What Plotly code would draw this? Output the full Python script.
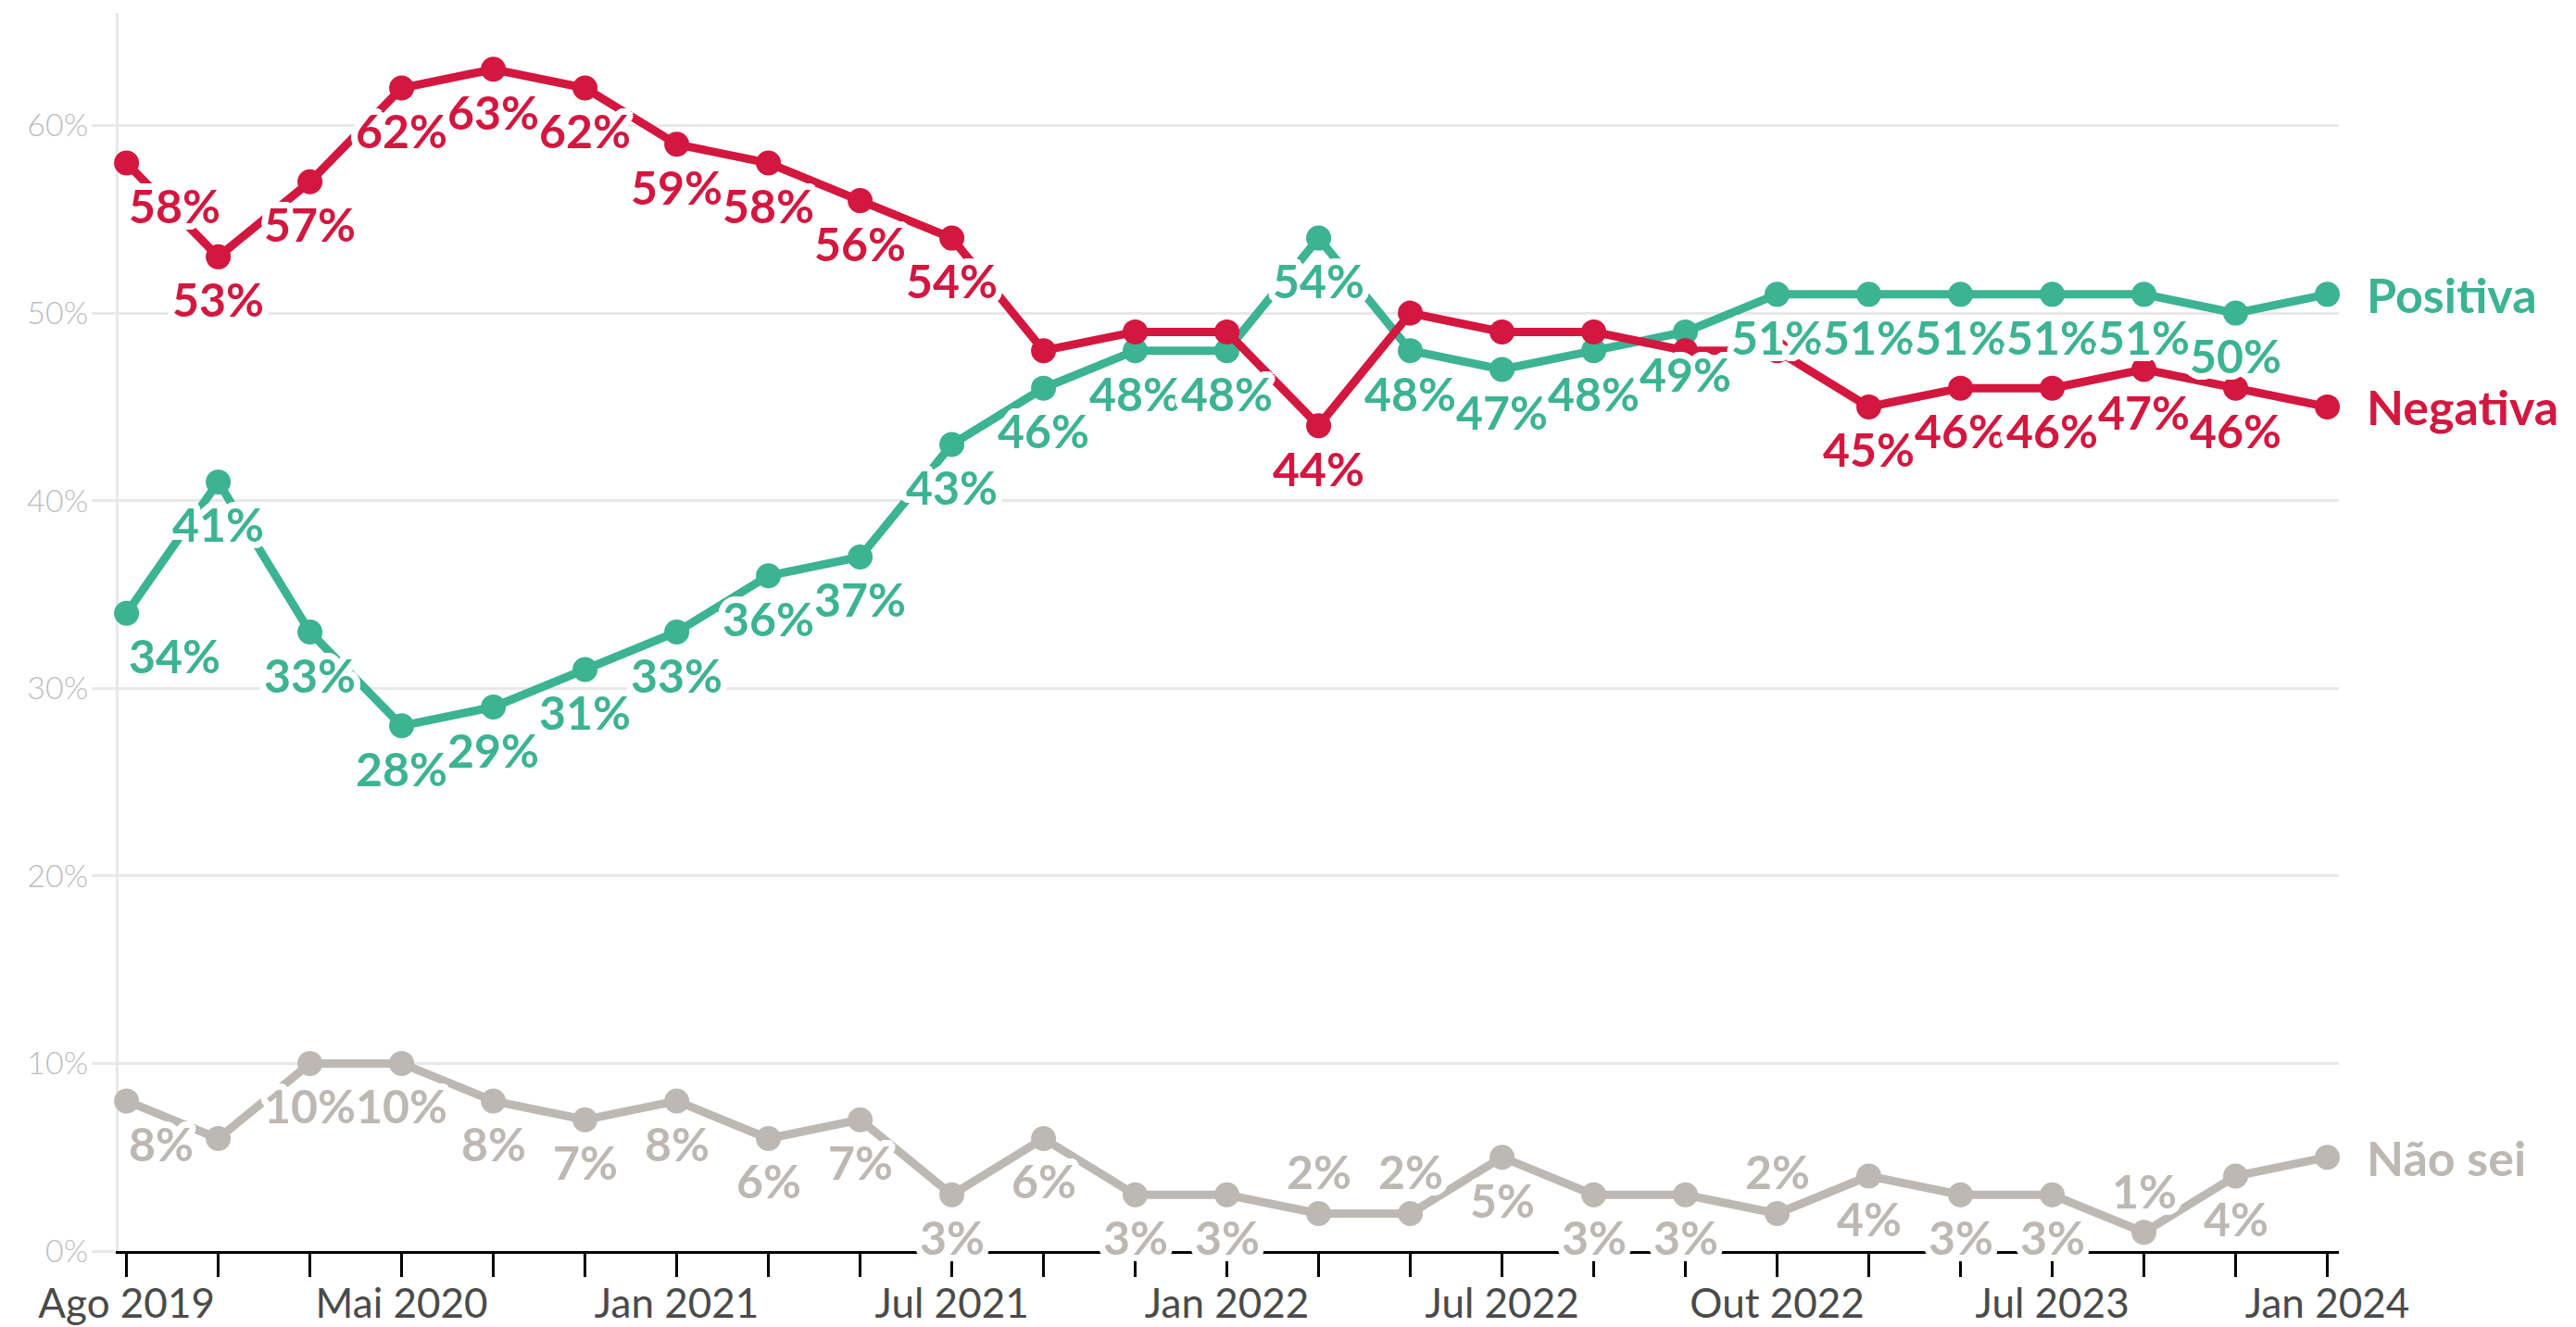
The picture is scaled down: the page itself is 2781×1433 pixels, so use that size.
import math
import plotly.graph_objects as go

# ---------------- data ----------------
periods = ["Ago 2019", "Dez 2019", "Fev 2020", "Mai 2020", "Ago 2020", "Out 2020",
           "Jan 2021", "Mar 2021", "Mai 2021", "Jul 2021", "Set 2021", "Nov 2021",
           "Jan 2022", "Mar 2022", "Mai 2022", "Jul 2022", "Ago 2022", "Set 2022",
           "Out 2022", "Dez 2022", "Mar 2023", "Jul 2023", "Set 2023", "Dez 2023",
           "Jan 2024"]
tick_labels = ["Ago 2019", "Mai 2020", "Jan 2021", "Jul 2021", "Jan 2022",
               "Jul 2022", "Out 2022", "Jul 2023", "Jan 2024"]
y_ticks = [0, 10, 20, 30, 40, 50, 60]

positiva = [34, 41, 33, 28, 29, 31, 33, 36, 37, 43, 46, 48, 48, 54, 48, 47, 48, 49,
            51, 51, 51, 51, 51, 50, 51]
negativa = [58, 53, 57, 62, 63, 62, 59, 58, 56, 54, 48, 49, 49, 44, 50, 49, 49, 48,
            48, 45, 46, 46, 47, 46, 45]
nao_sei = [8, 6, 10, 10, 8, 7, 8, 6, 7, 3, 6, 3, 3, 2, 2, 5, 3, 3,
           2, 4, 3, 3, 1, 4, 5]

# label placement: b = below, t = above, "" = hidden
lab_positiva = ["b"] * 24 + [""]
lab_negativa = ["b"] * 10 + ["", "", "", "b", "", "", "", "", ""] + ["b"] * 5 + [""]
lab_nao_sei = ["b", "", "b", "b", "b", "b", "b", "b", "b", "b", "b", "b", "b",
               "t", "t", "b", "b", "b", "t", "b", "b", "b", "t", "b", ""]

# ---------------- style ----------------
GREEN = "#3cb393"
RED = "#d3173f"
GRAY = "#bdb8b2"
FONT = "Lato"
GRID = "#e8e8e8"
LABEL_SIZE = 50

halo_parts = []
for k in range(24):
    a = 2 * math.pi * k / 24
    halo_parts.append(f"{7*math.cos(a):.1f}px {7*math.sin(a):.1f}px 0 white")
for k in range(12):
    a = 2 * math.pi * k / 12
    halo_parts.append(f"{3.5*math.cos(a):.1f}px {3.5*math.sin(a):.1f}px 0 white")
HALO = ", ".join(halo_parts)

series = [
    ("Não sei", nao_sei, lab_nao_sei, GRAY),
    ("Positiva", positiva, lab_positiva, GREEN),
    ("Negativa", negativa, lab_negativa, RED),
]

fig = go.Figure()

for name, vals, labs, col in series:
    fig.add_trace(go.Scatter(
        x=periods, y=vals, mode="lines+markers", name=name,
        line=dict(color=col, width=9),
        marker=dict(size=27, color=col),
        hoverinfo="skip", cliponaxis=False, showlegend=False,
    ))

# value labels
for name, vals, labs, col in series:
    for i, (p, v, l) in enumerate(zip(periods, vals, labs)):
        if not l:
            continue
        fig.add_annotation(
            x=p, y=v, text=f"{v}%", showarrow=False,
            xanchor="left" if i == 0 else "center", yanchor="middle",
            yshift=45 if l == "t" else -46,
            font=dict(family=FONT, size=LABEL_SIZE, color=col, weight=700,
                      shadow=HALO),
        )

# series names at line ends
for name, vals, labs, col in series:
    fig.add_annotation(
        x=periods[-1], y=vals[-1], text=name, showarrow=False,
        xanchor="left", yanchor="middle", xshift=40,
        font=dict(family=FONT, size=52, color=col, weight=700),
    )

fig.update_layout(
    width=2781, height=1433,
    margin=dict(l=120, r=264, t=6, b=90, autoexpand=False),
    paper_bgcolor="white", plot_bgcolor="white",
    showlegend=False,
    xaxis=dict(
        type="category", range=[-0.087, 24.126],
        tickvals=periods,
        ticktext=[p if p in tick_labels else "" for p in periods],
        showgrid=False, zeroline=False,
        showline=True, linecolor="black", linewidth=3,
        ticks="outside", ticklen=25, tickwidth=3, tickcolor="black",
        tickfont=dict(family=FONT, size=44, color="#4a4a4a"),
        ticklabelstandoff=-9,
        layer="below traces", fixedrange=True, automargin=False,
    ),
    yaxis=dict(
        range=[0, 66], tickvals=y_ticks, ticktext=[f"{v}%" for v in y_ticks],
        showgrid=True, gridcolor=GRID, gridwidth=3, zeroline=False,
        showline=True, linecolor=GRID, linewidth=3,
        ticks="outside", ticklen=26, tickwidth=3, tickcolor=GRID,
        tickfont=dict(family=FONT, size=34, color="#bdbdbd", weight=300),
        ticklabelstandoff=-3,
        layer="below traces", fixedrange=True, automargin=False,
    ),
)

fig.write_html("out.html")
